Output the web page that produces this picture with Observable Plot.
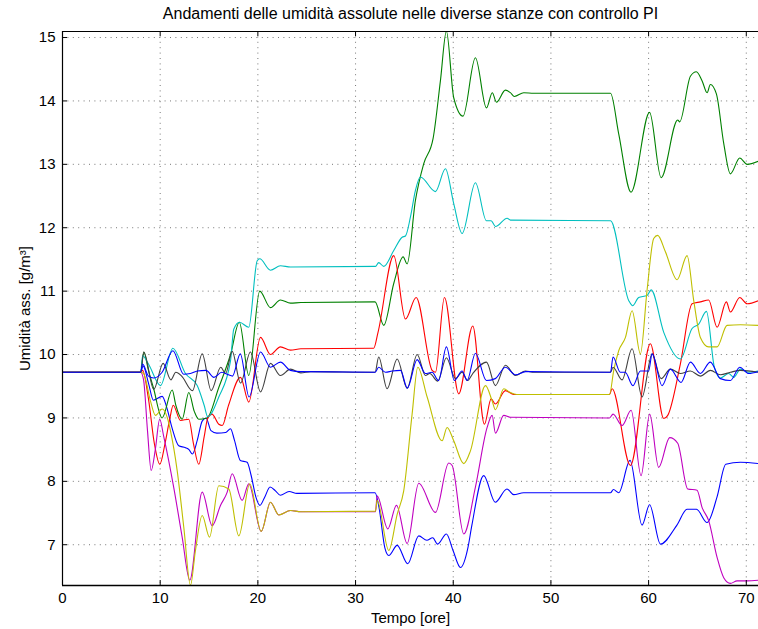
<!DOCTYPE html>
<html>
<head>
<meta charset="utf-8">
<script src="https://cdn.jsdelivr.net/npm/d3@7"></script>
<script src="https://cdn.jsdelivr.net/npm/@observablehq/plot@0.6"></script>
<style>
  body { margin: 0; background: #fff; }
  svg { display: block; }
</style>
</head>
<body>
<div id="chart"></div>
<script>
// Absolute humidity [g/m^3] in the different rooms under PI control, over time [hours].
const titolo = "Andamenti delle umidità assolute nelle diverse stanze con controllo PI";
const etichettaX = "Tempo [ore]";
const etichettaY = "Umidità ass. [g/m³]";
const xTicks = [0, 10, 20, 30, 40, 50, 60, 70];
const yTicks = [7, 8, 9, 10, 11, 12, 13, 14, 15];
const xDominio = [0, 71.25];
const yDominio = [6.357, 15.095];

const stanze = ["Stanza 1", "Stanza 2", "Stanza 3", "Stanza 4", "Stanza 5", "Stanza 6", "Stanza 7", "Stanza 8"];
const colori = ["#0000ff", "#008000", "#ff0000", "#00bfbf", "#bf00bf", "#bfbf00", "#404040", "#0000ff"];

// [ore, g/m^3]
const stanza1 = [[0,9.72],[8.0,9.72],[8.25,9.82],[8.8,9.55],[9.3,9.28],[10.2,9.34],[10.7,9.15],[11.2,8.85],[11.9,8.56],[12.6,8.53],[12.95,8.5],[13.3,8.43],[13.8,8.65],[14.3,8.95],[14.7,9.0],[15.2,8.8],[15.8,8.76],[16.7,8.77],[17.2,8.83],[17.6,8.65],[18.2,8.33],[18.9,8.3],[19.3,8.1],[19.8,7.75],[20.2,7.62],[20.7,7.75],[21.25,7.91],[21.8,7.85],[22.3,7.78],[23.2,7.84],[24.0,7.81],[32.0,7.82],[32.4,7.59],[33.0,6.95],[33.4,6.83],[34.26,6.99],[35.34,6.7],[36.47,7.14],[37.3,7.07],[37.9,7.11],[38.4,7.01],[39.3,7.17],[40.0,6.9],[40.74,6.64],[41.5,6.95],[41.9,7.3],[43.12,8.09],[44.3,7.67],[45.5,7.88],[46.2,7.79],[47.2,7.82],[56.1,7.82],[56.4,7.87],[56.94,7.82],[58.1,8.33],[59.33,7.31],[60.1,7.63],[61.21,7.01],[62.9,7.31],[63.94,7.56],[64.9,7.56],[65.99,7.35],[67.0,7.75],[67.9,8.27],[69.4,8.3],[71.25,8.28]];
const stanza2 = [[0,9.72],[8.0,9.72],[8.32,10.04],[8.8,9.75],[9.3,9.48],[10.2,9.0],[11.23,9.44],[11.6,9.2],[12.25,8.98],[12.93,9.4],[13.5,9.1],[13.95,8.98],[14.8,9.0],[16.0,9.48],[17.2,10.0],[18.1,10.51],[19.07,9.67],[20.19,11.0],[21.29,10.74],[22.31,10.86],[23.34,10.81],[24.4,10.82],[32.0,10.83],[32.89,10.46],[33.91,11.12],[34.87,11.54],[35.28,11.43],[36.13,12.43],[36.98,13.01],[37.94,13.41],[38.69,14.32],[39.3,15.1],[40.05,14.05],[41.0,13.76],[42.27,14.68],[43.4,13.89],[44.0,14.13],[44.42,13.98],[45.34,14.17],[45.85,14.13],[46.26,14.07],[47.22,14.13],[48.24,14.12],[56.1,14.12],[56.94,13.48],[58.2,12.56],[60.1,13.82],[61.28,12.79],[62.98,13.7],[63.18,13.67],[64.28,14.39],[64.89,14.46],[65.47,14.32],[65.99,14.13],[66.32,14.26],[66.94,14.11],[67.69,13.33],[68.37,12.85],[69.33,13.1],[70.08,13.0],[71.25,13.05]];
const stanza3 = [[0,9.72],[8.0,9.72],[8.2,9.75],[8.8,9.3],[9.4,8.6],[9.96,8.27],[10.5,8.6],[11.0,9.0],[11.33,9.2],[12.08,8.96],[12.93,8.98],[13.4,8.6],[13.95,8.27],[14.5,8.7],[14.87,9.0],[15.3,9.06],[16.0,8.9],[16.35,8.88],[17.0,9.2],[18.22,9.64],[19.07,9.25],[20.27,10.27],[21.29,10.0],[22.31,10.12],[23.34,10.07],[24.4,10.09],[31.86,10.1],[32.3,10.35],[33.91,11.56],[35.11,10.56],[36.2,10.9],[37.84,9.75],[38.18,9.72],[39.1,10.9],[40.56,9.38],[42.0,10.45],[43.19,8.9],[43.88,9.3],[44.32,9.22],[45.34,9.43],[46.2,9.37],[56.0,9.37],[56.26,9.46],[58.14,8.25],[60.18,10.17],[61.55,8.99],[61.96,9.04],[63.25,9.85],[64.45,10.8],[65.3,10.83],[66.15,10.86],[67.01,10.43],[67.96,10.83],[68.37,10.67],[69.33,10.9],[70.08,10.8],[71.25,10.85]];
const stanza4 = [[0,9.72],[8.0,9.72],[8.2,9.98],[8.8,9.85],[10.03,9.51],[11.3,10.1],[12.59,9.7],[13.79,9.51],[14.5,9.2],[14.87,9.02],[16.0,9.33],[17.2,9.9],[17.53,10.4],[18.12,10.51],[19.07,10.43],[19.93,11.48],[20.19,11.51],[21.29,11.33],[22.31,11.4],[23.34,11.38],[32.04,11.39],[32.37,11.45],[32.89,11.39],[33.91,11.64],[34.77,11.85],[35.11,11.87],[35.62,12.17],[36.13,12.59],[36.64,12.8],[38.18,12.57],[39.2,12.93],[40.05,12.38],[40.91,11.91],[42.27,12.71],[43.4,12.11],[43.88,12.11],[44.32,12.02],[45.52,12.15],[45.85,12.12],[56.1,12.11],[57.97,10.85],[58.37,10.77],[58.98,10.9],[59.84,10.93],[60.26,11.02],[61.55,10.35],[63.25,9.93],[64.45,10.41],[65.13,10.48],[65.92,10.68],[66.73,9.8],[67.35,9.63],[68.2,9.7],[68.71,9.64],[69.4,9.77],[70.25,9.72],[71.25,9.74]];
const stanza5 = [[0,9.72],[8.0,9.72],[8.3,9.6],[8.7,8.8],[9.08,8.17],[9.5,8.5],[9.95,8.98],[10.37,8.7],[11.39,7.9],[12.25,7.12],[13.03,6.44],[14.3,7.83],[15.32,7.3],[16.17,7.62],[16.86,7.83],[17.37,8.12],[18.39,7.7],[19.07,7.96],[20.34,7.21],[21.29,7.67],[22.14,7.47],[23.34,7.54],[24.4,7.52],[32.04,7.52],[32.21,7.77],[33.3,7.25],[34.19,7.62],[35.28,7.02],[36.47,7.97],[38.18,7.51],[39.54,8.29],[39.89,8.25],[41.08,7.17],[42.27,7.91],[43.47,8.85],[43.98,9.04],[44.32,8.76],[45.17,9.04],[45.85,9.01],[56.0,9.0],[56.36,9.06],[57.28,8.88],[58.21,9.12],[59.23,8.09],[60.11,9.06],[61.03,8.22],[62.16,8.69],[62.98,8.6],[64.0,7.88],[64.96,7.86],[65.47,7.59],[66.15,7.38],[67.01,6.8],[67.69,6.48],[68.37,6.39],[69.06,6.43],[70.08,6.43],[71.25,6.44]];
const stanza6 = [[0,9.72],[8.0,9.72],[8.3,9.7],[9.0,9.27],[9.52,9.04],[10.2,9.14],[10.72,9.01],[11.05,8.8],[11.74,8.17],[12.42,7.27],[13.1,6.36],[13.6,6.9],[14.3,7.46],[15.05,7.12],[16.0,7.93],[17.02,7.88],[18.05,7.14],[19.17,7.96],[20.34,7.21],[21.29,7.67],[22.14,7.47],[23.34,7.54],[24.4,7.52],[32.04,7.53],[32.21,7.7],[33.4,6.91],[34.26,7.48],[34.93,7.85],[35.79,9.06],[36.37,9.8],[37.33,9.33],[38.86,8.64],[39.37,8.85],[40.05,8.64],[41.08,8.28],[41.76,8.48],[43.3,9.51],[43.98,9.27],[44.32,9.13],[45.17,9.46],[45.85,9.4],[46.5,9.37],[56.0,9.37],[56.43,9.75],[56.94,10.06],[57.63,10.27],[58.31,10.69],[59.16,10.01],[59.84,11.01],[60.52,11.83],[60.93,11.88],[61.72,11.62],[62.92,11.18],[63.94,11.56],[64.62,10.85],[65.3,10.27],[66.15,10.12],[67.01,10.12],[68.03,10.46],[69.4,10.47],[71.25,10.46]];
const stanza7 = [[0,9.72],[8.0,9.72],[8.32,10.04],[9.34,9.45],[10.3,9.86],[11.1,9.6],[11.6,9.72],[12.2,9.66],[13.3,9.43],[14.3,10.01],[15.22,9.43],[16.2,9.8],[16.7,9.7],[17.37,10.05],[18.22,9.55],[19.24,10.04],[20.27,9.41],[21.29,9.86],[22.31,9.67],[23.34,9.77],[24.4,9.71],[25.4,9.73],[32.0,9.72],[32.37,9.96],[33.23,9.46],[34.26,9.93],[35.28,9.47],[36.31,10.0],[37.15,9.67],[37.6,9.7],[38.41,9.58],[39.3,9.95],[40.23,9.62],[40.9,9.72],[41.48,9.59],[42.0,9.7],[43.4,9.88],[44.32,9.51],[45.34,9.83],[46.37,9.67],[47.39,9.74],[48.3,9.72],[56.1,9.72],[56.36,9.8],[57.28,9.6],[58.31,10.09],[59.33,9.33],[60.36,10.01],[61.28,9.62],[62.23,9.77],[63.25,9.7],[64.28,9.74],[65.3,9.66],[66.32,9.75],[67.35,9.68],[68.37,9.72],[69.4,9.75],[71.25,9.72]];
const stanza8 = [[0,9.72],[8.0,9.72],[8.2,9.85],[8.8,9.66],[9.34,9.63],[10.2,9.72],[11.3,10.06],[12.4,9.69],[13.1,9.7],[13.8,9.74],[14.7,9.75],[15.5,9.64],[16.3,9.72],[17.0,9.68],[17.4,9.66],[18.2,10.01],[19.1,9.33],[20.27,10.04],[21.29,9.8],[22.31,9.88],[23.34,9.75],[24.4,9.73],[32.0,9.72],[32.37,9.8],[33.06,9.72],[33.75,9.74],[34.6,9.75],[35.3,9.47],[36.3,9.92],[37.15,9.7],[37.84,9.72],[38.5,9.59],[39.3,10.12],[40.12,9.59],[40.9,9.74],[41.42,9.59],[42.27,10.02],[43.4,9.59],[44.3,9.62],[45.34,9.8],[46.4,9.68],[47.4,9.73],[56.1,9.72],[56.36,9.96],[57.1,9.72],[57.6,9.72],[58.4,9.51],[59.16,9.74],[60.0,9.74],[60.36,10.01],[61.38,9.51],[62.23,9.77],[63.32,9.56],[64.28,9.88],[65.3,9.7],[66.32,9.88],[67.35,9.62],[68.37,9.59],[69.33,9.8],[70.25,9.7],[71.25,9.73]];

const valori = [stanza1, stanza2, stanza3, stanza4, stanza5, stanza6, stanza7, stanza8];
const righe = valori.flatMap((serie, i) => serie.map(([t, u]) => ({stanza: stanze[i], t, u})));

const W = 758, H = 629, mL = 62, mR = 0, mT = 31, mB = 44;
const altezzaArea = H - mT - mB;
const larghezzaArea = W - mL - mR;
const griglia = {stroke: "#555", strokeOpacity: 0.8, strokeWidth: 1, strokeDasharray: "1,4.4"};

const grafico = Plot.plot({
  width: W,
  height: H,
  marginLeft: mL,
  marginRight: mR,
  marginTop: mT,
  marginBottom: mB,
  style: {fontFamily: "'Liberation Sans', Arial, Helvetica, sans-serif", fontSize: "15px", color: "#000", background: "#fff"},
  x: {domain: xDominio},
  y: {domain: yDominio},
  color: {domain: stanze, range: colori},
  marks: [
    // dotted grid
    Plot.ruleX(xTicks, griglia),
    Plot.ruleY(yTicks, griglia),
    // the humidity curves, one per room
    Plot.line(righe, {x: "t", y: "u", z: "stanza", stroke: "stanza", strokeWidth: 1.1, curve: "monotone-x", clip: true}),
    // inward tick marks on bottom, top and left
    Plot.ruleX(xTicks, {insetTop: altezzaArea - 5, stroke: "#000"}),
    Plot.ruleX(xTicks, {insetBottom: altezzaArea - 5, stroke: "#000"}),
    Plot.ruleY(yTicks, {insetRight: larghezzaArea - 5, stroke: "#000"}),
    // box edges
    Plot.ruleX([xDominio[0]], {stroke: "#000", strokeWidth: 1.2}),
    Plot.ruleY([yDominio[0]], {stroke: "#000", strokeWidth: 1.5}),
    Plot.ruleY([yDominio[1]], {stroke: "#000", strokeWidth: 1.2}),
    Plot.axisX({ticks: xTicks, tickSize: 0, tickPadding: 7, fontSize: 15, label: etichettaX, labelAnchor: "center", labelOffset: 37, labelArrow: "none"}),
    Plot.axisY({ticks: yTicks, tickSize: 0, tickPadding: 7, fontSize: 15, label: etichettaY, labelAnchor: "center", labelOffset: 43, labelArrow: "none"}),
    Plot.text([titolo], {frameAnchor: "top", dy: -13, fontSize: 16, lineAnchor: "bottom", text: d => d, fill: "#000"})
  ]
});
document.getElementById("chart").appendChild(grafico);
</script>
</body>
</html>
